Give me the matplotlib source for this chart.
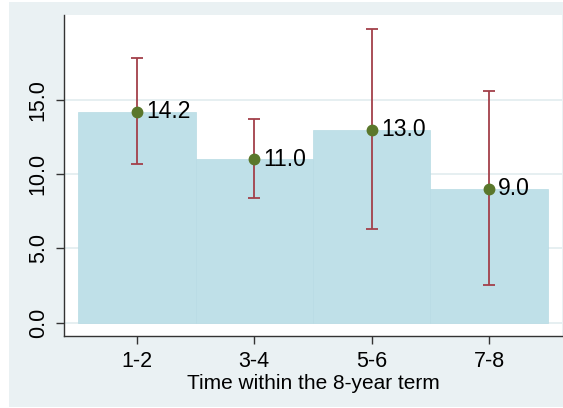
import numpy as np
import matplotlib.pyplot as plt
from matplotlib.patches import Rectangle

plt.rcParams['font.family'] = ['Liberation Sans', 'DejaVu Sans']

# Data
periods = ["1-2", "3-4", "5-6", "7-8"]
means = [14.2, 11.0, 13.0, 9.0]
ci_low = [10.7, 8.4, 6.3, 2.5]
ci_high = [17.8, 13.7, 19.8, 15.6]

bar_color = "#bfe0e8"
err_color = "#a3404a"
dot_color = "#5a772b"
outer_bg = "#eaf1f3"

fig = plt.figure(figsize=(5.63, 4.08), dpi=100)
fig.patch.set_facecolor("white")
fig.patches.append(Rectangle((9 / 563, 1 - 407 / 408), 554 / 563, 405 / 408,
                             transform=fig.transFigure, facecolor=outer_bg,
                             edgecolor="none", zorder=-10))

ax = fig.add_axes([64 / 563, 1 - 336 / 408, (562 - 64) / 563, (336 - 15) / 408])
ax.set_facecolor("white")

x = np.arange(1, len(periods) + 1)
ax.bar(x, means, width=1.0, color=bar_color, edgecolor="#b8dbe4",
       linewidth=0.5, zorder=2)

means_arr = np.array(means)
yerr = [means_arr - np.array(ci_low), np.array(ci_high) - means_arr]
ax.errorbar(x, means, yerr=yerr, fmt="none", ecolor=err_color,
            elinewidth=1.3, capsize=4, capthick=1.3, zorder=3)
ax.plot(x, means, "o", color=dot_color, markersize=7.5, zorder=4)

for xi, m in zip(x, means):
    ax.annotate(f"{m:.1f}", (xi, m), xytext=(6.5, 0), textcoords="offset points",
                ha="left", va="center", fontsize=16.5, color="black", zorder=5)

ax.set_xlim(0.38, 4.62)
ax.set_ylim(-0.91, 20.73)
ax.set_xticks(x)
ax.set_xticklabels(periods)
ax.set_yticks([0, 5, 10, 15])
ax.set_yticklabels(["0.0", "5.0", "10.0", "15.0"], rotation=90, va="center")
ax.tick_params(axis="both", labelsize=15.5, length=6, width=1, color="#333333",
               pad=5)
ax.set_xlabel("Time within the 8-year term", fontsize=15, labelpad=1)

ax.yaxis.grid(True, color="#e4eef0", linewidth=1.3, zorder=0)
ax.set_axisbelow(True)
for side in ["top", "right"]:
    ax.spines[side].set_visible(False)
for side in ["left", "bottom"]:
    ax.spines[side].set_color("#333333")
    ax.spines[side].set_linewidth(1)

fig.savefig("out.png", dpi=100, facecolor=fig.get_facecolor())
